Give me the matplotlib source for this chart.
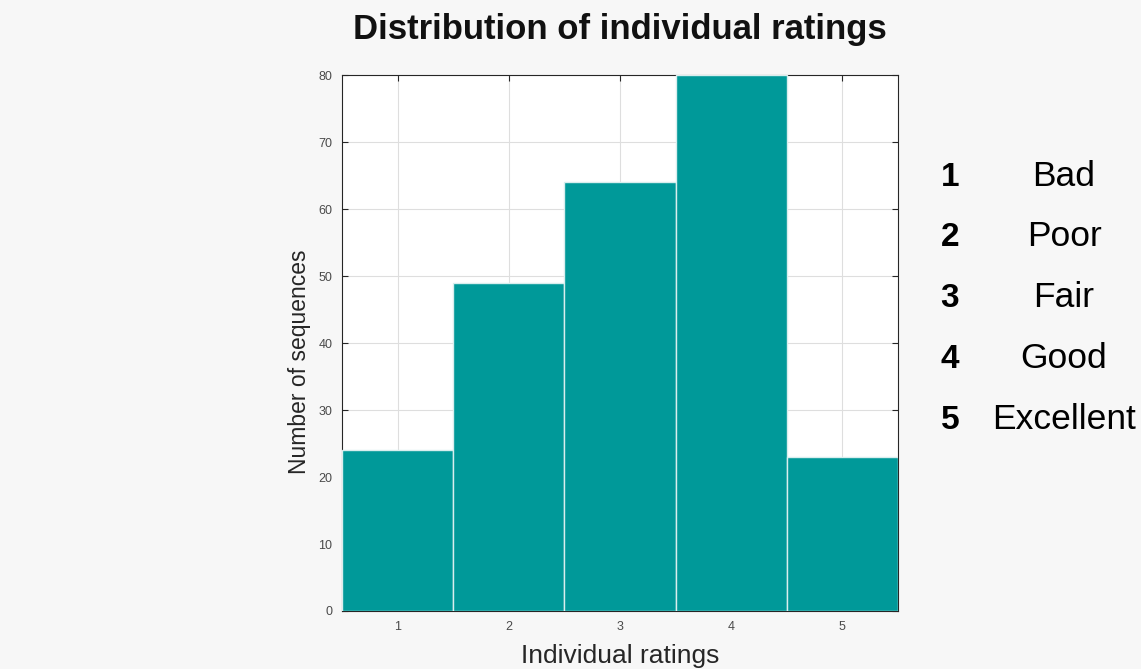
import matplotlib
matplotlib.use('Agg')
import matplotlib.pyplot as plt
import numpy as np

ratings = [1, 2, 3, 4, 5]
counts = [24, 49, 64, 80, 23]
rating_names = ['Bad', 'Poor', 'Fair', 'Good', 'Excellent']

plt.rcParams['font.family'] = ['Liberation Sans', 'DejaVu Sans']

fig = plt.figure(figsize=(11.41, 6.69), dpi=100, facecolor='#f7f7f7')
ax = fig.add_axes([0.2997, 0.0867, 0.4873, 0.801])

ax.bar(ratings, counts, width=1.0, color='#009999', edgecolor='#d8eeee',
       linewidth=1.0, zorder=3)
ax.set_xlim(0.5, 5.5)
ax.set_ylim(0, 80)
ax.set_xticks(ratings)
ax.set_yticks(np.arange(0, 81, 10))
ax.grid(True, color='#dedede', linewidth=0.8, zorder=0)
ax.tick_params(direction='in', top=True, right=True, labelsize=9,
               labelcolor='#4a4a4a', color='#262626', length=4, pad=7)
for s in ax.spines.values():
    s.set_color('#262626')
    s.set_linewidth(0.8)

ax.set_xlabel('Individual ratings', fontsize=19, color='#262626', va='center')
ax.set_ylabel('Number of sequences', fontsize=16.5, color='#262626', va='center')
ax.xaxis.set_label_coords(0.5, (611 - 656) / 536)
ax.yaxis.set_label_coords((300 - 342) / 556, (611 - 362) / 536)

fig.text(620 / 1141, 1 - 30 / 669, 'Distribution of individual ratings',
         fontsize=25, fontweight='bold', ha='center', va='center',
         color='#111111')

# rating scale key on the right (shared baseline per row)
row_base = [186, 246, 307, 368, 429]
for r, name, y in zip(ratings, rating_names, row_base):
    fy = 1 - y / 669
    fig.text(950 / 1141, fy, str(r), fontsize=24, fontweight='bold',
             ha='center', va='baseline')
    fig.text(1064 / 1141, fy, name, fontsize=25.5, ha='center', va='baseline')

fig.savefig('out.png', dpi=100, facecolor=fig.get_facecolor())
